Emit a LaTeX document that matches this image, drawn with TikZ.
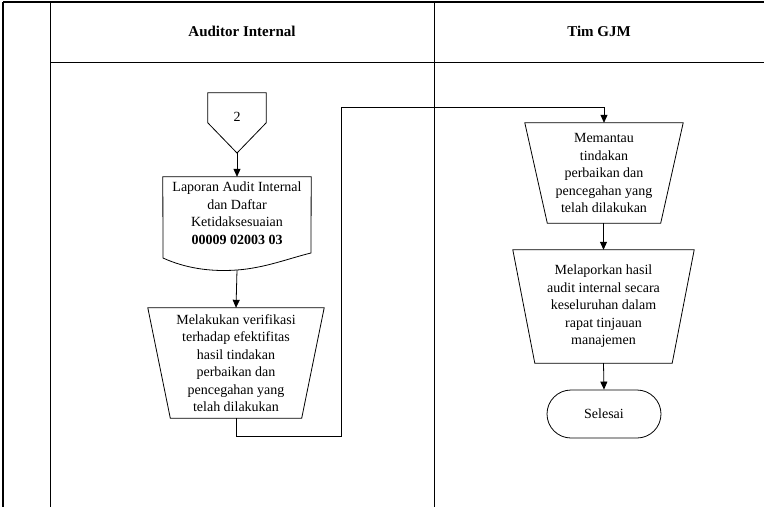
\documentclass[tikz,border=0pt]{standalone}
\usepackage{fontspec}
\setmainfont{Liberation Serif}
\usetikzlibrary{arrows.meta,calc}
\newcommand\bodyfont{\fontsize{14}{17.5}\selectfont}
\newcommand\headfont{\fontsize{15}{18}\selectfont\bfseries}
\begin{document}
\begin{tikzpicture}[x=1pt,y=-1pt,
  lane/.style={line width=1pt},
  shp/.style={line width=0.8pt},
  txt/.style={draw=none, align=center, inner sep=0pt, font=\bodyfont},
  arr/.style={line width=0.8pt, -{Triangle[length=8pt,width=7pt]}}]
\useasboundingbox (0,0) rectangle (764,507);
% lanes
\draw[line width=1.8pt] (3,2) -- (764,2);
\draw[line width=1.2pt] (3,2) -- (3,507);
\draw[lane] (50,2) -- (50,507);
\draw[lane] (434,2) -- (434,507);
\draw[lane] (50,62) -- (764,62);
\node[font=\headfont] (h1) at (242,31) {Auditor Internal};
\node[font=\headfont] (h2) at (599,31) {Tim GJM};
% off-page connector
\node[txt, minimum width=58pt, minimum height=48pt] (off) at (237,117) {2};
\coordinate (offtip) at (237,153);
\draw[shp] (off.north west) -- (off.north east) -- ($(off.north east)+(0,30)$) -- (offtip) -- ($(off.north west)+(0,30)$) -- cycle;
% document
\node[txt, minimum width=148pt, minimum height=72pt] (doc) at (237,213) {Laporan Audit Internal\\dan Daftar\\Ketidaksesuaian\\\textbf{00009 02003 03}};
\coordinate (docbot) at (237,270);
\draw[shp] (doc.north west) -- (doc.north east) -- (311,253) .. controls (290,258) and (265,268) .. (docbot) .. controls (210,272) and (185,268) .. (163,258) -- cycle;
% left trapezoid
\node[txt, minimum width=176pt, minimum height=110pt] (t1) at (236,363) {Melakukan verifikasi\\terhadap efektifitas\\hasil tindakan\\perbaikan dan\\pencegahan yang\\telah dilakukan};
\draw[shp] (t1.north west) -- (t1.north east) -- ([xshift=-22.5pt]t1.south east) -- ([xshift=22.5pt]t1.south west) -- cycle;
% right trapezoid 1
\node[txt, minimum width=158pt, minimum height=100pt] (m1) at (604,173) {Memantau\\tindakan\\perbaikan dan\\pencegahan yang\\telah dilakukan};
\draw[shp] (m1.north west) -- (m1.north east) -- ([xshift=-22.5pt]m1.south east) -- ([xshift=22.5pt]m1.south west) -- cycle;
% right trapezoid 2
\node[txt, minimum width=181pt, minimum height=113pt] (m2) at (603.5,306.5) {Melaporkan hasil\\audit internal secara\\keseluruhan dalam\\rapat tinjauan\\manajemen};
\draw[shp] (m2.north west) -- (m2.north east) -- ([xshift=-22pt]m2.south east) -- ([xshift=22pt]m2.south west) -- cycle;
% terminal
\node[shp, draw, rounded corners=24pt, minimum width=114pt, minimum height=48pt, inner sep=0pt, font=\bodyfont] (end) at (604,414) {Selesai};
% connectors
\coordinate (c1) at (341,436);
\coordinate (c2) at (341,107);
\draw[arr] (offtip) -- (doc.north);
\draw[arr] (docbot) -- (t1.north);
\draw[arr] (t1.south) |- (c1) -- (c2) -| (m1.north);
\draw[arr] ([xshift=-0.5pt]m1.south) -- (m2.north);
\draw[arr] (m2.south) -- (end.north);
\end{tikzpicture}
\end{document}
